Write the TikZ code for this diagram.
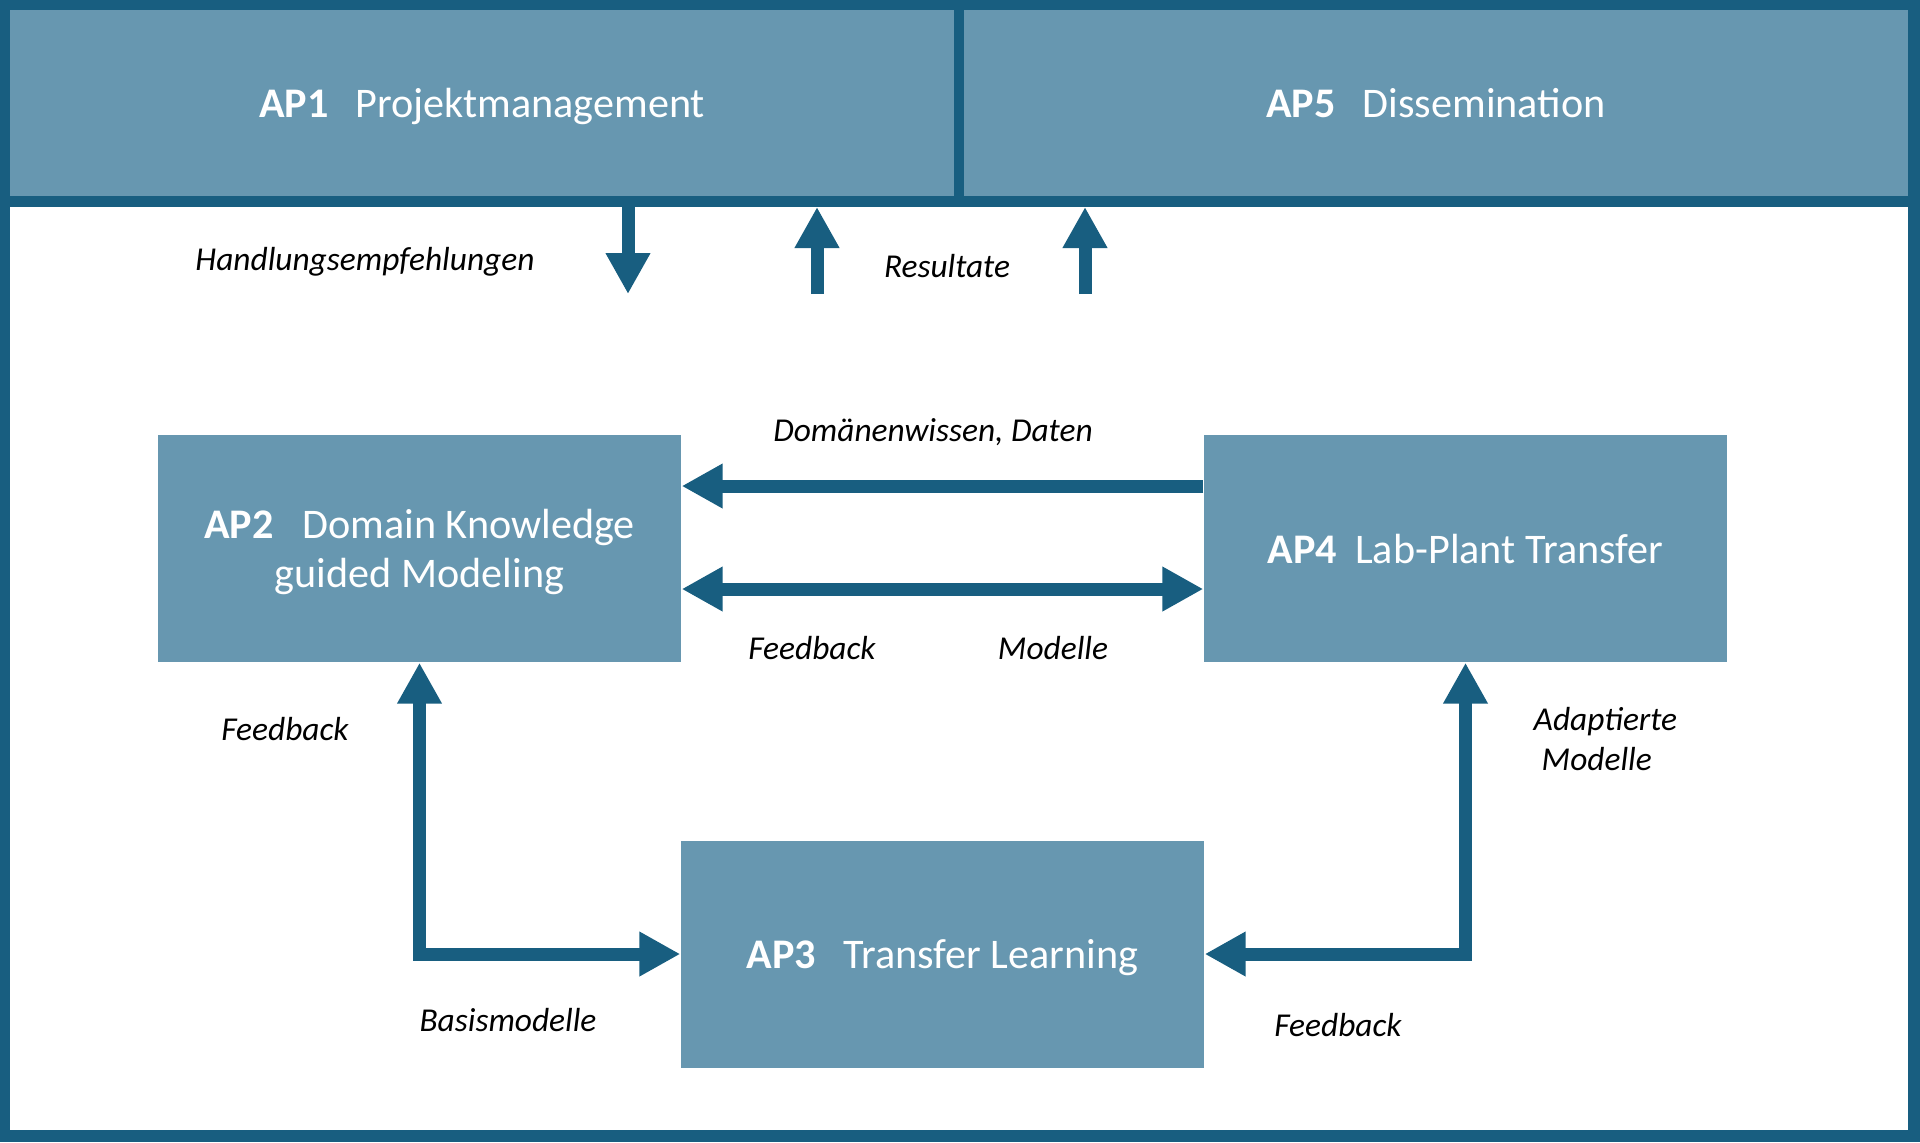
\documentclass[tikz,border=0pt]{standalone}
\usepackage{fontspec}
\setmainfont{Carlito}
\usetikzlibrary{arrows.meta}
\definecolor{apdark}{RGB}{24,94,128}
\definecolor{apfill}{RGB}{103,151,176}
\begin{document}
\begin{tikzpicture}[
    apbox/.style={fill=apfill,text=white,inner sep=0pt,minimum width=5.23cm,minimum height=2.27cm,align=center,text depth=0pt,font=\fontsize{12}{14}\selectfont},
    aphead/.style={apbox,minimum width=9.44cm,minimum height=1.86cm},
    lbl/.style={font=\fontsize{9.5}{11.5}\selectfont\itshape,inner sep=0pt},
    flow/.style={draw=apdark,line width=1.3mm,line join=miter},
    >={Triangle[width=4.2mm,length=4.1mm]}]
    \useasboundingbox(0,0)rectangle(19.2,-11.42);
    \fill[apdark](0,0)rectangle(19.2,-11.42);
    \fill[white](.1,-2.07)rectangle(19.08,-11.3);
    % header
    \node[aphead](ap1)at(4.82,-1.03){\textbf{AP1}\hspace{.27cm}Projektmanagement};
    \node[aphead](ap5)at(14.36,-1.03){\textbf{AP5}\hspace{.27cm}Dissemination};
    \coordinate(bandbot)at(0,-2.07);
    \coordinate(hdown)at(6.28,-2.94);
    \coordinate(res1)at(8.17,-2.94);
    \coordinate(res2)at(10.85,-2.94);
    \draw[flow,->](ap1.south-|hdown)--(hdown);
    \draw[flow,->](res1)--(res1|-bandbot);
    \draw[flow,->](res2)--(res2|-bandbot);
    \node[lbl](lhandl)at(3.65,-2.62){Handlungsempfehlungen};
    \node[lbl](lres)at(9.47,-2.66){Resultate};
    % work packages
    \node[apbox](ap2)at(4.195,-5.485){\textbf{AP2}\hspace{.29cm}Domain Knowledge\\guided Modeling};
    \node[apbox](ap4)at(14.655,-5.485){\textbf{AP4}\hspace{.18cm}Lab-Plant Transfer};
    \node[apbox](ap3)at(9.425,-9.54){\textbf{AP3}\hspace{.27cm}Transfer Learning};
    \coordinate(domy)at(0,-4.86);
    \coordinate(mody)at(0,-5.89);
    \draw[flow,->](ap4.west|-domy)--(ap2.east|-domy);
    \draw[flow,<->](ap2.east|-mody)--(ap4.west|-mody);
    \draw[flow,<->](ap2.south)|-(ap3.west);
    \draw[flow,<->](ap4.south)|-(ap3.east);
    \node[lbl](ldom)at(9.33,-4.32){Domänenwissen, Daten};
    \node[lbl](lfbmid)at(8.12,-6.48){Feedback};
    \node[lbl](lmod)at(10.53,-6.48){Modelle};
    \node[lbl](lfbleft)at(2.85,-7.29){Feedback};
    \node[lbl](lbasis)at(5.08,-10.2){Basismodelle};
    \node[lbl,anchor=west,align=left](ladapt)at(15.33,-7.39){Adaptierte\\\hspace{.8mm}Modelle};
    \node[lbl](lfbright)at(13.38,-10.25){Feedback};
\end{tikzpicture}
\end{document}
